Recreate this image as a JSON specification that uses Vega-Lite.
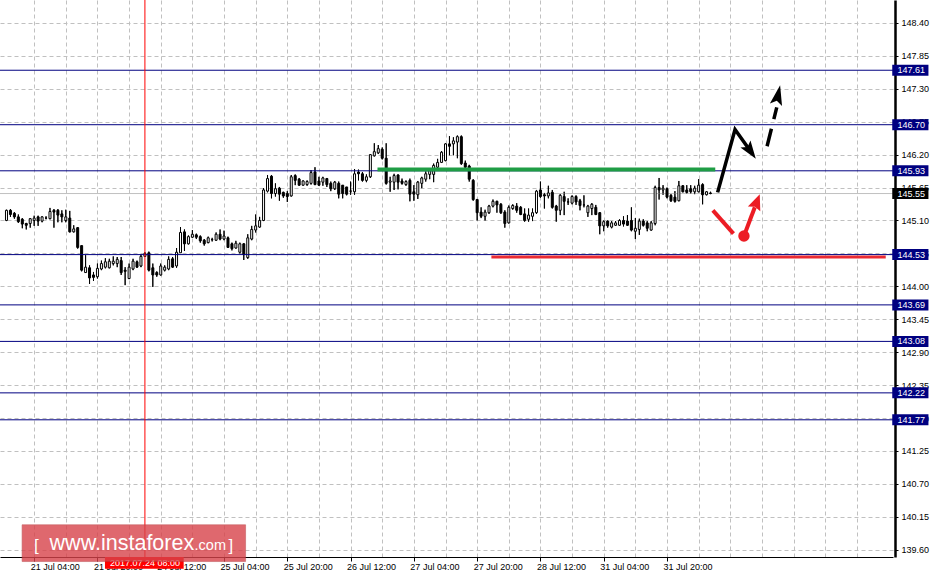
{
  "$schema": "https://vega.github.io/schema/vega-lite/v6.json",
  "width": 893,
  "height": 557,
  "autosize": {"type": "none"},
  "padding": {"left": 0, "top": 0, "right": 43, "bottom": 23},
  "background": "#ffffff",
  "config": {"view": {"stroke": null}, "axis": {"labelOverlap": false}},
  "datasets": {
    "candles": [
      {"i":0,"o":145.10,"h":145.28,"l":145.09,"c":145.27},
      {"i":1,"o":145.27,"h":145.29,"l":145.16,"c":145.20},
      {"i":2,"o":145.22,"h":145.24,"l":145.13,"c":145.16},
      {"i":3,"o":145.16,"h":145.20,"l":145.06,"c":145.08},
      {"i":4,"o":145.12,"h":145.14,"l":144.97,"c":145.04},
      {"i":5,"o":145.05,"h":145.06,"l":144.95,"c":145.02},
      {"i":6,"o":145.05,"h":145.14,"l":144.98,"c":145.13},
      {"i":7,"o":145.10,"h":145.18,"l":145.01,"c":145.14},
      {"i":8,"o":145.16,"h":145.18,"l":145.01,"c":145.09},
      {"i":9,"o":145.09,"h":145.17,"l":145.07,"c":145.16},
      {"i":10,"o":145.14,"h":145.17,"l":145.12,"c":145.14},
      {"i":11,"o":145.13,"h":145.31,"l":145.12,"c":145.25},
      {"i":12,"o":145.27,"h":145.29,"l":144.98,"c":145.24},
      {"i":13,"o":145.27,"h":145.29,"l":145.07,"c":145.19},
      {"i":14,"o":145.21,"h":145.27,"l":145.07,"c":145.16},
      {"i":15,"o":145.10,"h":145.28,"l":145.07,"c":145.16},
      {"i":16,"o":145.14,"h":145.26,"l":144.90,"c":144.91},
      {"i":17,"o":144.91,"h":145.02,"l":144.90,"c":144.96},
      {"i":18,"o":144.98,"h":144.99,"l":144.63,"c":144.65},
      {"i":19,"o":144.68,"h":144.68,"l":144.25,"c":144.27},
      {"i":20,"o":144.23,"h":144.52,"l":144.23,"c":144.32},
      {"i":21,"o":144.31,"h":144.35,"l":144.04,"c":144.14},
      {"i":22,"o":144.19,"h":144.24,"l":144.09,"c":144.15},
      {"i":23,"o":144.16,"h":144.38,"l":144.13,"c":144.30},
      {"i":24,"o":144.29,"h":144.43,"l":144.27,"c":144.38},
      {"i":25,"o":144.32,"h":144.47,"l":144.30,"c":144.41},
      {"i":26,"o":144.31,"h":144.46,"l":144.30,"c":144.42},
      {"i":27,"o":144.38,"h":144.50,"l":144.35,"c":144.42},
      {"i":28,"o":144.38,"h":144.49,"l":144.32,"c":144.45},
      {"i":29,"o":144.43,"h":144.49,"l":144.19,"c":144.23},
      {"i":30,"o":144.27,"h":144.32,"l":144.02,"c":144.25},
      {"i":31,"o":144.13,"h":144.38,"l":144.12,"c":144.32},
      {"i":32,"o":144.29,"h":144.46,"l":144.27,"c":144.42},
      {"i":33,"o":144.41,"h":144.43,"l":144.31,"c":144.32},
      {"i":34,"o":144.34,"h":144.53,"l":144.32,"c":144.50},
      {"i":35,"o":144.50,"h":144.57,"l":144.49,"c":144.55},
      {"i":36,"o":144.56,"h":144.58,"l":144.25,"c":144.27},
      {"i":37,"o":144.31,"h":144.38,"l":143.99,"c":144.19},
      {"i":38,"o":144.23,"h":144.25,"l":144.16,"c":144.19},
      {"i":39,"o":144.19,"h":144.38,"l":144.18,"c":144.34},
      {"i":40,"o":144.27,"h":144.35,"l":144.25,"c":144.32},
      {"i":41,"o":144.29,"h":144.50,"l":144.27,"c":144.45},
      {"i":42,"o":144.46,"h":144.49,"l":144.31,"c":144.32},
      {"i":43,"o":144.34,"h":144.64,"l":144.31,"c":144.57},
      {"i":44,"o":144.56,"h":144.99,"l":144.56,"c":144.90},
      {"i":45,"o":144.91,"h":144.95,"l":144.59,"c":144.71},
      {"i":46,"o":144.71,"h":144.85,"l":144.70,"c":144.83},
      {"i":47,"o":144.82,"h":144.94,"l":144.81,"c":144.87},
      {"i":48,"o":144.86,"h":144.88,"l":144.79,"c":144.82},
      {"i":49,"o":144.83,"h":144.85,"l":144.73,"c":144.76},
      {"i":50,"o":144.77,"h":144.79,"l":144.68,"c":144.71},
      {"i":51,"o":144.73,"h":144.83,"l":144.72,"c":144.81},
      {"i":52,"o":144.78,"h":144.81,"l":144.75,"c":144.78},
      {"i":53,"o":144.77,"h":144.90,"l":144.76,"c":144.87},
      {"i":54,"o":144.87,"h":144.95,"l":144.77,"c":144.79},
      {"i":55,"o":144.79,"h":144.93,"l":144.77,"c":144.84},
      {"i":56,"o":144.81,"h":144.83,"l":144.64,"c":144.65},
      {"i":57,"o":144.71,"h":144.73,"l":144.60,"c":144.63},
      {"i":58,"o":144.64,"h":144.76,"l":144.63,"c":144.72},
      {"i":59,"o":144.57,"h":144.73,"l":144.55,"c":144.71},
      {"i":60,"o":144.71,"h":144.72,"l":144.44,"c":144.53},
      {"i":61,"o":144.48,"h":144.87,"l":144.46,"c":144.81},
      {"i":62,"o":144.79,"h":145.01,"l":144.77,"c":144.95},
      {"i":63,"o":144.94,"h":145.20,"l":144.90,"c":145.01},
      {"i":64,"o":144.99,"h":145.16,"l":144.98,"c":145.10},
      {"i":65,"o":145.10,"h":145.64,"l":145.09,"c":145.61},
      {"i":66,"o":145.59,"h":145.86,"l":145.57,"c":145.80},
      {"i":67,"o":145.84,"h":145.86,"l":145.47,"c":145.55},
      {"i":68,"o":145.55,"h":145.72,"l":145.50,"c":145.63},
      {"i":69,"o":145.64,"h":145.66,"l":145.43,"c":145.54},
      {"i":70,"o":145.57,"h":145.58,"l":145.48,"c":145.51},
      {"i":71,"o":145.55,"h":145.59,"l":145.41,"c":145.50},
      {"i":72,"o":145.51,"h":145.86,"l":145.50,"c":145.83},
      {"i":73,"o":145.85,"h":145.87,"l":145.69,"c":145.77},
      {"i":74,"o":145.79,"h":145.81,"l":145.68,"c":145.69},
      {"i":75,"o":145.69,"h":145.77,"l":145.68,"c":145.76},
      {"i":76,"o":145.70,"h":145.77,"l":145.68,"c":145.75},
      {"i":77,"o":145.72,"h":145.94,"l":145.70,"c":145.90},
      {"i":78,"o":145.91,"h":145.99,"l":145.69,"c":145.70},
      {"i":79,"o":145.76,"h":145.83,"l":145.68,"c":145.69},
      {"i":80,"o":145.74,"h":145.83,"l":145.68,"c":145.81},
      {"i":81,"o":145.80,"h":145.81,"l":145.66,"c":145.70},
      {"i":82,"o":145.72,"h":145.75,"l":145.59,"c":145.63},
      {"i":83,"o":145.63,"h":145.76,"l":145.61,"c":145.74},
      {"i":84,"o":145.72,"h":145.75,"l":145.47,"c":145.54},
      {"i":85,"o":145.69,"h":145.69,"l":145.47,"c":145.55},
      {"i":86,"o":145.66,"h":145.66,"l":145.52,"c":145.54},
      {"i":87,"o":145.59,"h":145.75,"l":145.53,"c":145.59},
      {"i":88,"o":145.58,"h":145.96,"l":145.53,"c":145.88},
      {"i":89,"o":145.91,"h":145.95,"l":145.77,"c":145.88},
      {"i":90,"o":145.88,"h":145.91,"l":145.75,"c":145.77},
      {"i":91,"o":145.77,"h":145.87,"l":145.74,"c":145.83},
      {"i":92,"o":145.83,"h":146.21,"l":145.81,"c":146.20},
      {"i":93,"o":146.18,"h":146.39,"l":146.17,"c":146.25},
      {"i":94,"o":146.23,"h":146.36,"l":146.21,"c":146.30},
      {"i":95,"o":146.29,"h":146.32,"l":146.12,"c":146.14},
      {"i":96,"o":146.14,"h":146.39,"l":145.70,"c":145.72},
      {"i":97,"o":145.74,"h":145.83,"l":145.58,"c":145.76},
      {"i":98,"o":145.74,"h":145.88,"l":145.61,"c":145.85},
      {"i":99,"o":145.86,"h":145.87,"l":145.62,"c":145.74},
      {"i":100,"o":145.76,"h":145.80,"l":145.70,"c":145.72},
      {"i":101,"o":145.70,"h":145.77,"l":145.68,"c":145.75},
      {"i":102,"o":145.77,"h":145.80,"l":145.42,"c":145.54},
      {"i":103,"o":145.58,"h":145.69,"l":145.43,"c":145.54},
      {"i":104,"o":145.53,"h":145.76,"l":145.46,"c":145.74},
      {"i":105,"o":145.72,"h":145.83,"l":145.64,"c":145.81},
      {"i":106,"o":145.79,"h":145.92,"l":145.75,"c":145.88},
      {"i":107,"o":145.87,"h":145.97,"l":145.79,"c":145.94},
      {"i":108,"o":145.87,"h":146.05,"l":145.74,"c":146.02},
      {"i":109,"o":145.99,"h":146.13,"l":145.98,"c":146.07},
      {"i":110,"o":146.07,"h":146.26,"l":146.06,"c":146.24},
      {"i":111,"o":146.10,"h":146.39,"l":146.09,"c":146.38},
      {"i":112,"o":146.38,"h":146.51,"l":146.19,"c":146.34},
      {"i":113,"o":146.38,"h":146.49,"l":146.19,"c":146.43},
      {"i":114,"o":146.41,"h":146.52,"l":146.14,"c":146.50},
      {"i":115,"o":146.50,"h":146.52,"l":146.03,"c":146.05},
      {"i":116,"o":146.06,"h":146.10,"l":145.98,"c":145.99},
      {"i":117,"o":146.01,"h":146.03,"l":145.75,"c":145.79},
      {"i":118,"o":145.77,"h":145.79,"l":145.43,"c":145.45},
      {"i":119,"o":145.45,"h":145.46,"l":145.10,"c":145.23},
      {"i":120,"o":145.24,"h":145.32,"l":145.14,"c":145.17},
      {"i":121,"o":145.17,"h":145.28,"l":145.10,"c":145.24},
      {"i":122,"o":145.23,"h":145.36,"l":145.21,"c":145.34},
      {"i":123,"o":145.34,"h":145.45,"l":145.32,"c":145.42},
      {"i":124,"o":145.42,"h":145.43,"l":145.23,"c":145.36},
      {"i":125,"o":145.37,"h":145.39,"l":145.21,"c":145.23},
      {"i":126,"o":145.24,"h":145.27,"l":144.98,"c":145.05},
      {"i":127,"o":145.06,"h":145.35,"l":145.05,"c":145.32},
      {"i":128,"o":145.30,"h":145.37,"l":145.28,"c":145.35},
      {"i":129,"o":145.34,"h":145.39,"l":145.23,"c":145.27},
      {"i":130,"o":145.32,"h":145.34,"l":145.19,"c":145.20},
      {"i":131,"o":145.21,"h":145.30,"l":145.08,"c":145.10},
      {"i":132,"o":145.12,"h":145.30,"l":145.08,"c":145.19},
      {"i":133,"o":145.17,"h":145.30,"l":145.09,"c":145.23},
      {"i":134,"o":145.23,"h":145.61,"l":145.21,"c":145.59},
      {"i":135,"o":145.61,"h":145.75,"l":145.48,"c":145.50},
      {"i":136,"o":145.53,"h":145.56,"l":145.30,"c":145.51},
      {"i":137,"o":145.51,"h":145.68,"l":145.47,"c":145.56},
      {"i":138,"o":145.57,"h":145.61,"l":145.30,"c":145.32},
      {"i":139,"o":145.34,"h":145.36,"l":145.08,"c":145.27},
      {"i":140,"o":145.27,"h":145.54,"l":145.19,"c":145.52},
      {"i":141,"o":145.50,"h":145.58,"l":145.19,"c":145.42},
      {"i":142,"o":145.41,"h":145.47,"l":145.36,"c":145.41},
      {"i":143,"o":145.39,"h":145.52,"l":145.37,"c":145.50},
      {"i":144,"o":145.50,"h":145.52,"l":145.36,"c":145.41},
      {"i":145,"o":145.43,"h":145.46,"l":145.27,"c":145.35},
      {"i":146,"o":145.36,"h":145.52,"l":145.32,"c":145.36},
      {"i":147,"o":145.23,"h":145.36,"l":145.16,"c":145.34},
      {"i":148,"o":145.30,"h":145.39,"l":145.19,"c":145.37},
      {"i":149,"o":145.32,"h":145.36,"l":145.19,"c":145.20},
      {"i":150,"o":145.23,"h":145.24,"l":144.87,"c":145.01},
      {"i":151,"o":145.01,"h":145.10,"l":144.92,"c":145.08},
      {"i":152,"o":145.09,"h":145.10,"l":144.98,"c":145.01},
      {"i":153,"o":144.99,"h":145.09,"l":144.97,"c":145.06},
      {"i":154,"o":145.02,"h":145.09,"l":145.01,"c":145.06},
      {"i":155,"o":145.02,"h":145.12,"l":145.01,"c":145.10},
      {"i":156,"o":145.10,"h":145.17,"l":145.00,"c":145.04},
      {"i":157,"o":145.09,"h":145.19,"l":145.01,"c":145.02},
      {"i":158,"o":145.10,"h":145.32,"l":144.92,"c":144.94},
      {"i":159,"o":144.92,"h":145.14,"l":144.79,"c":144.97},
      {"i":160,"o":144.95,"h":145.13,"l":144.86,"c":145.09},
      {"i":161,"o":145.09,"h":145.12,"l":145.00,"c":145.02},
      {"i":162,"o":145.06,"h":145.09,"l":144.92,"c":144.97},
      {"i":163,"o":144.94,"h":145.09,"l":144.93,"c":145.06},
      {"i":164,"o":145.05,"h":145.68,"l":145.02,"c":145.65},
      {"i":165,"o":145.65,"h":145.81,"l":145.45,"c":145.61},
      {"i":166,"o":145.61,"h":145.69,"l":145.53,"c":145.64},
      {"i":167,"o":145.63,"h":145.65,"l":145.47,"c":145.49},
      {"i":168,"o":145.52,"h":145.54,"l":145.41,"c":145.43},
      {"i":169,"o":145.49,"h":145.59,"l":145.40,"c":145.42},
      {"i":170,"o":145.43,"h":145.76,"l":145.42,"c":145.68},
      {"i":171,"o":145.68,"h":145.69,"l":145.57,"c":145.58},
      {"i":172,"o":145.61,"h":145.69,"l":145.55,"c":145.57},
      {"i":173,"o":145.63,"h":145.69,"l":145.55,"c":145.58},
      {"i":174,"o":145.58,"h":145.68,"l":145.54,"c":145.64},
      {"i":175,"o":145.58,"h":145.79,"l":145.57,"c":145.69},
      {"i":176,"o":145.70,"h":145.72,"l":145.37,"c":145.53},
      {"i":177,"o":145.53,"h":145.59,"l":145.52,"c":145.58},
      {"i":178,"o":145.56,"h":145.58,"l":145.54,"c":145.55}
    ],
    "levels": [{"p":147.61},{"p":146.70},{"p":145.93},{"p":144.53},{"p":143.69},{"p":143.08},{"p":142.22},{"p":141.77}],
    "current": [{"p":145.55}],
    "cursor": [{"i":35,"t":"2017.07.24 08:00"}],
    "lines": [
      {"name":"green","i":93.8,"i2":179.2,"p":145.95},
      {"name":"red","i":122.6,"i2":222.3,"p":144.49}
    ],
    "paths": [
      {"name":"black","k":0,"i":179.8,"p":145.57},
      {"name":"black","k":1,"i":184.2,"p":146.62},
      {"name":"black","k":2,"i":188.3,"p":146.24},
      {"name":"dash","k":0,"i":192.3,"p":146.34},
      {"name":"dash","k":1,"i":194.75,"p":146.99},
      {"name":"redseg","k":0,"i":178.6,"p":145.27},
      {"name":"redseg","k":1,"i":183.8,"p":144.88},
      {"name":"redarrow","k":0,"i":186.45,"p":144.84},
      {"name":"redarrow","k":1,"i":189.2,"p":145.32}
    ],
    "heads": [
      {"name":"black","i":189.45,"p":146.13},
      {"name":"dash","i":195.6,"p":147.36},
      {"name":"red","i":190.45,"p":145.54},
      {"name":"dot","i":186.45,"p":144.84}
    ]
  },
  "layer": [
    {
      "data": {"name": "candles"},
      "mark": {"type": "rule", "color": "#000000", "strokeWidth": 1},
      "encoding": {
        "x": {"field": "i", "type": "quantitative", "title": null, "scale": {"domain": [-0.375, 222.875], "nice": false, "zero": false},
          "axis": {"orient": "bottom", "title": null, "tickCount": 200,
            "values": [7,15,23,31,39,47,55,63,71,79,87,95,103,111,119,127,135,143,151,159,167,175,183,191,199,207,215],
            "grid": true, "gridColor": "#c0c0c0", "gridDash": [4,3], "gridWidth": 1,
            "domain": true, "domainColor": "#000000", "domainWidth": 1,
            "ticks": true, "tickColor": "#000000", "tickSize": 4,
            "tickOpacity": {"condition": {"test": "datum.value <= 167 && (datum.value - 7) % 16 == 0", "value": 1}, "value": 0},
            "labels": true,
            "labelExpr": "datum.value <= 167 && (datum.value - 7) % 16 == 0 ? ['21 Jul 04:00','21 Jul 20:00','24 Jul 12:00','25 Jul 04:00','25 Jul 20:00','26 Jul 12:00','27 Jul 04:00','27 Jul 20:00','28 Jul 12:00','31 Jul 04:00','31 Jul 20:00'][(datum.value - 7) / 16] : ''",
            "labelAlign": "left", "labelOffset": -4, "labelPadding": 1,
            "labelFont": "Liberation Sans", "labelFontSize": 9, "labelColor": "#000000",
            "labelOverlap": false, "labelFlush": false, "labelBound": false}},
        "y": {"field": "l", "type": "quantitative", "title": null, "scale": {"domain": [139.5614, 148.7], "nice": false, "zero": false},
          "axis": {"orient": "right", "title": null, "offset": 2, "tickCount": 200,
            "values": [139.6,140.15,140.7,141.25,141.8,142.35,142.9,143.45,144,144.55,145.1,145.65,146.2,146.75,147.3,147.85,148.4],
            "format": ".2f",
            "grid": true, "gridColor": "#c0c0c0", "gridDash": [4,3], "gridWidth": 1,
            "domain": true, "domainColor": "#000000", "domainWidth": 2.5,
            "ticks": true, "tickColor": "#000000", "tickSize": 3,
            "labels": true, "labelPadding": 3, "labelFont": "Liberation Sans", "labelFontSize": 9, "labelColor": "#000000",
            "labelOverlap": false, "labelFlush": false, "labelBound": false}},
        "y2": {"field": "h"}
      }
    },
    {
      "data": {"name": "current"},
      "mark": {"type": "rule", "color": "#c0c0c0", "strokeWidth": 1},
      "encoding": {
        "y": {"field": "p", "type": "quantitative", "title": null, "scale": {"domain": [139.5614, 148.7], "nice": false, "zero": false}}
      }
    },
    {
      "data": {"name": "candles"},
      "mark": {"type": "rule", "color": "#000000", "strokeWidth": 1},
      "encoding": {
        "x": {"field": "i", "type": "quantitative", "title": null, "scale": {"domain": [-0.375, 222.875], "nice": false, "zero": false}},
        "y": {"field": "l", "type": "quantitative", "title": null, "scale": {"domain": [139.5614, 148.7], "nice": false, "zero": false}},
        "y2": {"field": "h"}
      }
    },
    {
      "data": {"name": "candles"},
      "mark": {"type": "bar", "orient": "vertical", "size": 2, "stroke": "#000000", "strokeWidth": 1},
      "encoding": {
        "x": {"field": "i", "type": "quantitative", "title": null, "scale": {"domain": [-0.375, 222.875], "nice": false, "zero": false}},
        "y": {"field": "o", "type": "quantitative", "title": null, "scale": {"domain": [139.5614, 148.7], "nice": false, "zero": false}},
        "y2": {"field": "c"},
        "color": {"condition": {"test": "datum.c > datum.o", "value": "#ffffff"}, "value": "#000000"}
      }
    },
    {
      "data": {"name": "levels"},
      "mark": {"type": "rule", "color": "#000080", "strokeWidth": 1},
      "encoding": {
        "y": {"field": "p", "type": "quantitative", "title": null, "scale": {"domain": [139.5614, 148.7], "nice": false, "zero": false}}
      }
    },
    {
      "data": {"name": "lines"},
      "transform": [{"filter": "datum.name == 'green'"}],
      "mark": {"type": "rule", "color": "#1f9d45", "strokeWidth": 4, "strokeCap": "butt"},
      "encoding": {
        "x": {"field": "i", "type": "quantitative", "title": null, "scale": {"domain": [-0.375, 222.875], "nice": false, "zero": false}},
        "x2": {"field": "i2"},
        "y": {"field": "p", "type": "quantitative", "title": null, "scale": {"domain": [139.5614, 148.7], "nice": false, "zero": false}}
      }
    },
    {
      "data": {"name": "lines"},
      "transform": [{"filter": "datum.name == 'red'"}],
      "mark": {"type": "rule", "color": "#ea2a33", "strokeWidth": 3, "strokeCap": "butt"},
      "encoding": {
        "x": {"field": "i", "type": "quantitative", "title": null, "scale": {"domain": [-0.375, 222.875], "nice": false, "zero": false}},
        "x2": {"field": "i2"},
        "y": {"field": "p", "type": "quantitative", "title": null, "scale": {"domain": [139.5614, 148.7], "nice": false, "zero": false}}
      }
    },
    {
      "data": {"name": "paths"},
      "transform": [{"filter": "datum.name == 'black'"}],
      "mark": {"type": "line", "color": "#000000", "strokeWidth": 3.5, "strokeCap": "butt", "strokeJoin": "miter"},
      "encoding": {
        "x": {"field": "i", "type": "quantitative", "title": null, "scale": {"domain": [-0.375, 222.875], "nice": false, "zero": false}},
        "y": {"field": "p", "type": "quantitative", "title": null, "scale": {"domain": [139.5614, 148.7], "nice": false, "zero": false}},
        "order": {"field": "k", "type": "quantitative"}
      }
    },
    {
      "data": {"name": "paths"},
      "transform": [{"filter": "datum.name == 'dash'"}],
      "mark": {"type": "line", "color": "#000000", "strokeWidth": 3.5, "strokeCap": "butt", "strokeDash": [18, 10]},
      "encoding": {
        "x": {"field": "i", "type": "quantitative", "title": null, "scale": {"domain": [-0.375, 222.875], "nice": false, "zero": false}},
        "y": {"field": "p", "type": "quantitative", "title": null, "scale": {"domain": [139.5614, 148.7], "nice": false, "zero": false}},
        "order": {"field": "k", "type": "quantitative"}
      }
    },
    {
      "data": {"name": "paths"},
      "transform": [{"filter": "datum.name == 'redseg' || datum.name == 'redarrow'"}],
      "mark": {"type": "line", "color": "#ec1c24", "strokeWidth": 4, "strokeCap": "butt"},
      "encoding": {
        "x": {"field": "i", "type": "quantitative", "title": null, "scale": {"domain": [-0.375, 222.875], "nice": false, "zero": false}},
        "y": {"field": "p", "type": "quantitative", "title": null, "scale": {"domain": [139.5614, 148.7], "nice": false, "zero": false}},
        "detail": {"field": "name"},
        "order": {"field": "k", "type": "quantitative"}
      }
    },
    {
      "data": {"name": "heads"},
      "transform": [{"filter": "datum.name == 'black'"}],
      "mark": {"type": "point", "shape": "M0,0L-0.34,1L0,0.8L0.34,1Z", "size": 1300, "angle": 145, "filled": true, "color": "#000000", "opacity": 1},
      "encoding": {
        "x": {"field": "i", "type": "quantitative", "title": null, "scale": {"domain": [-0.375, 222.875], "nice": false, "zero": false}},
        "y": {"field": "p", "type": "quantitative", "title": null, "scale": {"domain": [139.5614, 148.7], "nice": false, "zero": false}}
      }
    },
    {
      "data": {"name": "heads"},
      "transform": [{"filter": "datum.name == 'dash'"}],
      "mark": {"type": "point", "shape": "M0,0L-0.31,1L0,0.8L0.31,1Z", "size": 1600, "angle": 12, "filled": true, "color": "#000000", "opacity": 1},
      "encoding": {
        "x": {"field": "i", "type": "quantitative", "title": null, "scale": {"domain": [-0.375, 222.875], "nice": false, "zero": false}},
        "y": {"field": "p", "type": "quantitative", "title": null, "scale": {"domain": [139.5614, 148.7], "nice": false, "zero": false}}
      }
    },
    {
      "data": {"name": "heads"},
      "transform": [{"filter": "datum.name == 'red'"}],
      "mark": {"type": "point", "shape": "M0,0L-0.42,1L0,0.85L0.42,1Z", "size": 1000, "angle": 21, "filled": true, "color": "#ec1c24", "opacity": 1},
      "encoding": {
        "x": {"field": "i", "type": "quantitative", "title": null, "scale": {"domain": [-0.375, 222.875], "nice": false, "zero": false}},
        "y": {"field": "p", "type": "quantitative", "title": null, "scale": {"domain": [139.5614, 148.7], "nice": false, "zero": false}}
      }
    },
    {
      "data": {"name": "heads"},
      "transform": [{"filter": "datum.name == 'dot'"}],
      "mark": {"type": "point", "shape": "circle", "size": 130, "filled": true, "color": "#ec1c24", "opacity": 1},
      "encoding": {
        "x": {"field": "i", "type": "quantitative", "title": null, "scale": {"domain": [-0.375, 222.875], "nice": false, "zero": false}},
        "y": {"field": "p", "type": "quantitative", "title": null, "scale": {"domain": [139.5614, 148.7], "nice": false, "zero": false}}
      }
    },
    {
      "data": {"name": "cursor"},
      "mark": {"type": "rule", "color": "#ff0000", "strokeWidth": 1},
      "encoding": {
        "x": {"field": "i", "type": "quantitative", "title": null, "scale": {"domain": [-0.375, 222.875], "nice": false, "zero": false}}
      }
    },
    {
      "data": {"name": "levels"},
      "mark": {"type": "bar", "orient": "horizontal", "size": 11, "color": "#000080"},
      "encoding": {
        "x": {"datum": 223.95, "type": "quantitative", "scale": {"domain": [-0.375, 222.875], "nice": false, "zero": false}},
        "x2": {"datum": 233.1},
        "y": {"field": "p", "type": "quantitative", "title": null, "scale": {"domain": [139.5614, 148.7], "nice": false, "zero": false}}
      }
    },
    {
      "data": {"name": "current"},
      "mark": {"type": "bar", "orient": "horizontal", "size": 11, "color": "#000000"},
      "encoding": {
        "x": {"datum": 223.95, "type": "quantitative", "scale": {"domain": [-0.375, 222.875], "nice": false, "zero": false}},
        "x2": {"datum": 233.1},
        "y": {"field": "p", "type": "quantitative", "title": null, "scale": {"domain": [139.5614, 148.7], "nice": false, "zero": false}}
      }
    },
    {
      "data": {"name": "levels"},
      "mark": {"type": "text", "align": "left", "baseline": "middle", "color": "#ffffff", "font": "Liberation Sans", "fontSize": 9},
      "encoding": {
        "x": {"datum": 225.3, "type": "quantitative", "scale": {"domain": [-0.375, 222.875], "nice": false, "zero": false}},
        "y": {"field": "p", "type": "quantitative", "title": null, "scale": {"domain": [139.5614, 148.7], "nice": false, "zero": false}},
        "text": {"field": "p", "type": "quantitative", "format": ".2f"}
      }
    },
    {
      "data": {"name": "current"},
      "mark": {"type": "text", "align": "left", "baseline": "middle", "color": "#ffffff", "font": "Liberation Sans", "fontSize": 9},
      "encoding": {
        "x": {"datum": 225.3, "type": "quantitative", "scale": {"domain": [-0.375, 222.875], "nice": false, "zero": false}},
        "y": {"field": "p", "type": "quantitative", "title": null, "scale": {"domain": [139.5614, 148.7], "nice": false, "zero": false}},
        "text": {"field": "p", "type": "quantitative", "format": ".2f"}
      }
    },
    {
      "data": {"name": "cursor"},
      "mark": {"type": "rect", "color": "#ff0000"},
      "encoding": {
        "x": {"datum": 24.9, "type": "quantitative", "scale": {"domain": [-0.375, 222.875], "nice": false, "zero": false}},
        "x2": {"datum": 44.8},
        "y": {"datum": 139.479, "type": "quantitative", "scale": {"domain": [139.5614, 148.7], "nice": false, "zero": false}},
        "y2": {"datum": 139.283}
      }
    },
    {
      "data": {"name": "cursor"},
      "mark": {"type": "text", "align": "center", "baseline": "middle", "color": "#ffffff", "font": "Liberation Sans", "fontSize": 9},
      "encoding": {
        "x": {"field": "i", "type": "quantitative", "title": null, "scale": {"domain": [-0.375, 222.875], "nice": false, "zero": false}},
        "y": {"datum": 139.38, "type": "quantitative", "scale": {"domain": [139.5614, 148.7], "nice": false, "zero": false}},
        "text": {"field": "t"}
      }
    },
    {
      "data": {"values": [{"w": "www.instaforex.com"}]},
      "mark": {"type": "rect", "color": "#d8434a", "opacity": 0.8, "stroke": "#b83a40", "strokeWidth": 1, "strokeOpacity": 0.6},
      "encoding": {
        "x": {"datum": 3.95, "type": "quantitative", "scale": {"domain": [-0.375, 222.875], "nice": false, "zero": false}},
        "x2": {"datum": 60.45},
        "y": {"datum": 140.016, "type": "quantitative", "scale": {"domain": [139.5614, 148.7], "nice": false, "zero": false}},
        "y2": {"datum": 139.402}
      }
    },
    {
      "data": {"values": [{"w": "["}]},
      "mark": {"type": "text", "align": "center", "baseline": "alphabetic", "color": "#ffffff", "font": "Liberation Sans", "fontSize": 17},
      "encoding": {
        "x": {"datum": 7.55, "type": "quantitative", "scale": {"domain": [-0.375, 222.875], "nice": false, "zero": false}},
        "y": {"datum": 139.57, "type": "quantitative", "scale": {"domain": [139.5614, 148.7], "nice": false, "zero": false}},
        "text": {"field": "w"}
      }
    },
    {
      "data": {"values": [{"w": "www.instaforex"}]},
      "mark": {"type": "text", "align": "left", "baseline": "alphabetic", "color": "#ffffff", "font": "Liberation Sans", "fontSize": 21.5},
      "encoding": {
        "x": {"datum": 10.9, "type": "quantitative", "scale": {"domain": [-0.375, 222.875], "nice": false, "zero": false}},
        "y": {"datum": 139.594, "type": "quantitative", "scale": {"domain": [139.5614, 148.7], "nice": false, "zero": false}},
        "text": {"field": "w"}
      }
    },
    {
      "data": {"values": [{"w": ".com"}]},
      "mark": {"type": "text", "align": "left", "baseline": "alphabetic", "color": "#ffffff", "font": "Liberation Sans", "fontSize": 14.5},
      "encoding": {
        "x": {"datum": 47.55, "type": "quantitative", "scale": {"domain": [-0.375, 222.875], "nice": false, "zero": false}},
        "y": {"datum": 139.594, "type": "quantitative", "scale": {"domain": [139.5614, 148.7], "nice": false, "zero": false}},
        "text": {"field": "w"}
      }
    },
    {
      "data": {"values": [{"w": "]"}]},
      "mark": {"type": "text", "align": "center", "baseline": "alphabetic", "color": "#ffffff", "font": "Liberation Sans", "fontSize": 17},
      "encoding": {
        "x": {"datum": 56.7, "type": "quantitative", "scale": {"domain": [-0.375, 222.875], "nice": false, "zero": false}},
        "y": {"datum": 139.57, "type": "quantitative", "scale": {"domain": [139.5614, 148.7], "nice": false, "zero": false}},
        "text": {"field": "w"}
      }
    }
  ]
}
